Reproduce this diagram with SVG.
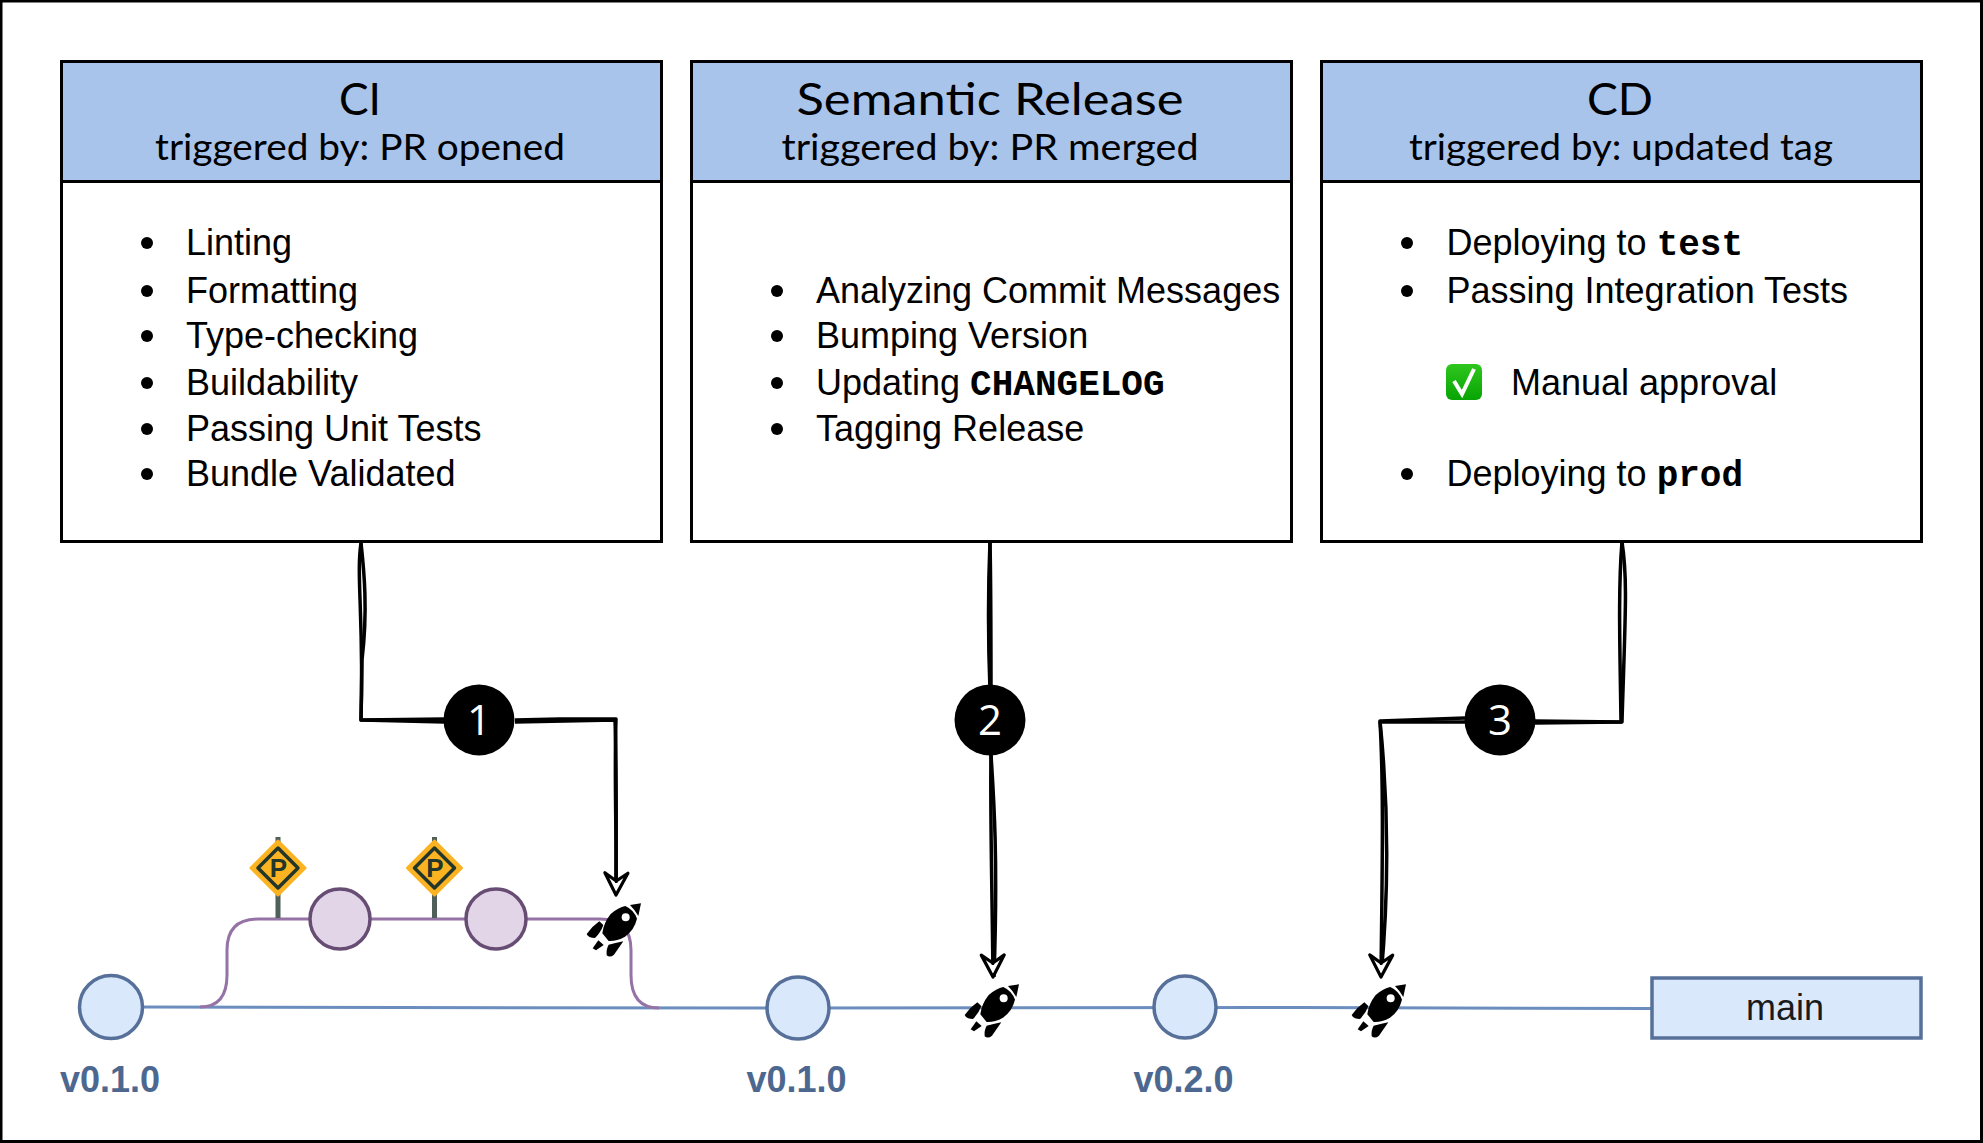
<svg xmlns="http://www.w3.org/2000/svg" width="1983" height="1143" viewBox="0 0 1983 1143">
<style>
.box{fill:#fff;stroke:#000;stroke-width:3}
.head{fill:#a9c4eb;stroke:#000;stroke-width:3}
.t{font-family:"Liberation Sans",Arial,sans-serif;font-size:36px;fill:#000}
.m{font-family:"Liberation Mono","Courier New",monospace;font-weight:700;font-size:36px}
.title{font-family:"Lato","Noto Sans",cursive;font-size:44px;fill:#000;text-anchor:middle}
.sub{font-family:"Lato","Noto Sans",cursive;font-size:37px;fill:#000;text-anchor:middle}
.ver{font-family:"Liberation Sans",Arial,sans-serif;font-weight:700;font-size:36px;fill:#4d6890;text-anchor:middle}
.num{font-family:"Open Sans","Noto Sans",sans-serif;font-size:42px;fill:#fff;text-anchor:middle}
.c{fill:none;stroke:#000;stroke-width:3.5;stroke-linejoin:round}
.blue{fill:#dae8fc;stroke:#56709a;stroke-width:3.5}
.pur{fill:#e1d5e7;stroke:#674d74;stroke-width:3.5}
</style>
<defs>
<linearGradient id="gr" x1="0" y1="0" x2="0" y2="1"><stop offset="0" stop-color="#2fc71e"/><stop offset="1" stop-color="#08a404"/></linearGradient>
<marker id="ah" markerUnits="userSpaceOnUse" markerWidth="40" markerHeight="40" refX="30" refY="15" viewBox="0 0 40 40" orient="auto" overflow="visible">
<path d="M8,3.500 L16,15 L8,26.500 L30,15 Z" fill="#fff" stroke="#000" stroke-width="3.2" stroke-linejoin="round"/>
<path d="M12,15 L18,15" stroke="#000" stroke-width="2.500" fill="none"/>
</marker>
<g id="rocket" transform="translate(570,860) scale(0.3333)">
<path d="M180,135 L213,130 L205,168 Q195,150 180,135 Z"/>
<path d="M166,138 Q192,150 201,176 Q193,210 165,230 Q140,244 116,243 L97,220 Q100,190 122,162 Q145,142 166,138Z"/>
<circle cx="167" cy="172" r="12" fill="#fff"/>
<path d="M88,184 L100,195 Q92,218 75,234 Q55,234 50,222 Q65,200 88,184Z"/>
<path d="M160,244 L132,284 Q120,294 110,286 Q108,268 116,254 Q135,250 160,244Z"/>
<path d="M85,241 L101,255 L78,271 L68,265Z"/>
</g>
<g id="sign">
<rect x="-2.500" y="-31" width="5" height="81" fill="#4f5f5a"/>
<path d="M0,-27 L27,0 L0,27 L-27,0 Z" fill="#fbb321" stroke="#fbb321" stroke-width="3" stroke-linejoin="round"/>
<path d="M0,-20 L20,0 L0,20 L-20,0 Z" fill="none" stroke="#22362a" stroke-width="3.500" stroke-linejoin="round"/>
<text x="0.500" y="9" text-anchor="middle" font-family="Liberation Sans,Arial,sans-serif" font-weight="700" font-size="26" fill="#22362a">P</text>
</g>
</defs>
<rect width="1983" height="1143" fill="#fff"/>
<rect x="1" y="1" width="1980.500" height="1140.500" fill="none" stroke="#000" stroke-width="3"/>

<g id="box-ci">
<rect class="box" x="61.500" y="61.500" width="600" height="480"/>
<rect class="head" x="61.500" y="61.500" width="600" height="120"/>
<text class="title" x="360" y="115" textLength="42" lengthAdjust="spacingAndGlyphs">CI</text>
<text class="sub" x="360" y="160" textLength="410" lengthAdjust="spacingAndGlyphs">triggered by: PR opened</text>
<circle cx="147" cy="243" r="6"/><text class="t" x="186" y="255">Linting</text>
<circle cx="147" cy="291" r="6"/><text class="t" x="186" y="303">Formatting</text>
<circle cx="147" cy="336" r="6"/><text class="t" x="186" y="348">Type-checking</text>
<circle cx="147" cy="383" r="6"/><text class="t" x="186" y="395">Buildability</text>
<circle cx="147" cy="429" r="6"/><text class="t" x="186" y="441">Passing Unit Tests</text>
<circle cx="147" cy="474" r="6"/><text class="t" x="186" y="486">Bundle Validated</text>
</g>
<g id="box-release">
<rect class="box" x="691.500" y="61.500" width="600" height="480"/>
<rect class="head" x="691.500" y="61.500" width="600" height="120"/>
<text class="title" x="990" y="115" textLength="387" lengthAdjust="spacingAndGlyphs">Semantic Release</text>
<text class="sub" x="990" y="160" textLength="417" lengthAdjust="spacingAndGlyphs">triggered by: PR merged</text>
<circle cx="777" cy="291" r="6"/><text class="t" x="816" y="303">Analyzing Commit Messages</text>
<circle cx="777" cy="336" r="6"/><text class="t" x="816" y="348">Bumping Version</text>
<circle cx="777" cy="383" r="6"/><text class="t" x="816" y="395">Updating <tspan class="m">CHANGELOG</tspan></text>
<circle cx="777" cy="429" r="6"/><text class="t" x="816" y="441">Tagging Release</text>
</g>
<g id="box-cd">
<rect class="box" x="1321.500" y="61.500" width="600" height="480"/>
<rect class="head" x="1321.500" y="61.500" width="600" height="120"/>
<text class="title" x="1620" y="115" textLength="66" lengthAdjust="spacingAndGlyphs">CD</text>
<text class="sub" x="1621" y="160" textLength="424" lengthAdjust="spacingAndGlyphs">triggered by: updated tag</text>
<circle cx="1407" cy="243" r="6"/><text class="t" x="1446.500" y="255">Deploying to <tspan class="m">test</tspan></text>
<circle cx="1407" cy="291" r="6"/><text class="t" x="1446.500" y="303">Passing Integration Tests</text>
<rect x="1446" y="364" width="36" height="36" rx="6" fill="url(#gr)"/>
<path d="M1454,381 L1462,394 L1474,369" fill="none" stroke="#fff" stroke-width="4"/>
<text class="t" x="1511" y="395">Manual approval</text>
<circle cx="1407" cy="474" r="6"/><text class="t" x="1446.500" y="486">Deploying to <tspan class="m">prod</tspan></text>
</g>

<g id="connectors">
<path d="M143,1007 L400,1007.500 L800,1008 L1300,1007.500 L1652,1008.500" fill="none" stroke="#6c8ebf" stroke-width="3"/>
<path d="M200,1007 Q227,1007 227,975 L227,950 Q227,919 258,919 L600,919 Q631,919 631,950 L631,975 Q631,1008 659,1008" fill="none" stroke="#9673a6" stroke-width="3"/>
<path class="c" d="M361,543 C356,575 364,620 361,720 L445,722"/>
<path class="c" d="M361,543 C364,570 368,610 362,660 L361,720 L445,719"/>
<path class="c" d="M515,722 L615,720 C617,770 616,830 616,895"/>
<path class="c" d="M515,720 L560,719 L616,719 C614,780 617,840 616,895" marker-end="url(#ah)"/>
<path class="c" d="M990,541 C988,590 988,640 990,690"/>
<path class="c" d="M990,541 C991,590 991,640 991,690"/>
<path class="c" d="M991,755 C994,800 998,860 994,977"/>
<path class="c" d="M991,755 C990,810 992,880 993,977" marker-end="url(#ah)"/>
<path class="c" d="M1622,542 C1628,580 1625,620 1622,722 L1535,721"/>
<path class="c" d="M1622,542 C1618,590 1620,650 1621,722 L1535,723"/>
<path class="c" d="M1465,718 L1380,721 C1388,800 1390,880 1381,977"/>
<path class="c" d="M1465,722 L1380,722 C1384,790 1382,880 1381,977" marker-end="url(#ah)"/>
</g>

<g id="sign-1"><use href="#sign" x="278" y="868"/></g>
<g id="sign-2"><use href="#sign" x="434.500" y="868"/></g>

<g id="commit-1"><circle class="blue" cx="111" cy="1007" r="31.500"/><text class="ver" x="110" y="1092">v0.1.0</text></g>
<g id="commit-a"><circle class="pur" cx="340" cy="919" r="30"/></g>
<g id="commit-b"><circle class="pur" cx="496" cy="919" r="30"/></g>
<g id="commit-2"><circle class="blue" cx="798" cy="1008" r="31"/><text class="ver" x="796.500" y="1092">v0.1.0</text></g>
<g id="commit-3"><circle class="blue" cx="1185" cy="1007" r="31"/><text class="ver" x="1183.500" y="1092">v0.2.0</text></g>
<g id="branch-main"><rect class="blue" x="1652" y="978" width="269" height="60"/><text class="t" x="1785" y="1020" text-anchor="middle" style="fill:#1a1a1a">main</text></g>

<g id="rocket-1"><use href="#rocket"/></g>
<g id="rocket-2"><use href="#rocket" x="378" y="81"/></g>
<g id="rocket-3"><use href="#rocket" x="765" y="81"/></g>

<g id="badge-1"><circle cx="479" cy="720" r="35.500"/><text class="num" x="479" y="735">1</text></g>
<g id="badge-2"><circle cx="990" cy="720" r="35.500"/><text class="num" x="990" y="735">2</text></g>
<g id="badge-3"><circle cx="1500" cy="720" r="35.500"/><text class="num" x="1500" y="735">3</text></g>
</svg>
